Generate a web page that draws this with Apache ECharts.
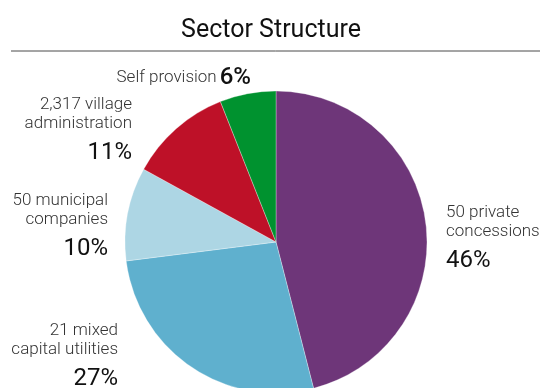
<!DOCTYPE html>
<html>
<head>
<meta charset="utf-8">
<style>
  html, body { margin: 0; padding: 0; background: #ffffff; }
  #chart { width: 542px; height: 388px; }
</style>
<script src="https://cdn.jsdelivr.net/npm/echarts@6/dist/echarts.min.js"></script>
</head>
<body>
<div id="chart"></div>
<script>
// Sector shares, clockwise from 12 o'clock
const sectorNames = [
  '50 private\nconcessions',
  '21 mixed\ncapital utilities',
  '50 municipal\ncompanies',
  '2,317 village\nadministration',
  'Self provision'
];
const sectorShares = [46, 27, 10, 11, 6];
const sectorColors = ['#6E3679', '#5FB0CE', '#ADD6E4', '#BE1128', '#00922F'];

// Label anchors (pixels) and alignment for each slice
const labelAnchors = [
  { x: 446, y: 203, align: 'left' },
  { x: 118, y: 321, align: 'right' },
  { x: 108, y: 191, align: 'right' },
  { x: 132, y: 95, align: 'right' },
  { x: 251, y: 64, align: 'right' }
];

const chart = echarts.init(document.getElementById('chart'), null, { renderer: 'canvas' });

const FONT = 'Roboto, "Noto Sans", sans-serif';

chart.setOption({
  animation: false,
  title: {
    text: 'Sector Structure',
    left: 'center',
    top: 13,
    textStyle: { fontFamily: FONT, fontSize: 25, fontWeight: 400, color: '#111' }
  },
  graphic: [{
    type: 'line',
    shape: { x1: 11, y1: 51, x2: 540, y2: 51 },
    style: { stroke: '#4a4a4a', lineWidth: 1 }
  }],
  series: [{
    type: 'pie',
    center: [276, 242],
    radius: 151,
    startAngle: 90,
    clockwise: true,
    avoidLabelOverlap: false,
    itemStyle: { borderColor: 'rgba(255,255,255,0.6)', borderWidth: 0.5 },
    labelLine: { show: false },
    label: {
      show: true,
      position: 'outside',
      fontFamily: FONT,
      formatter: function (p) {
        if (p.dataIndex === 4) {
          return '{name|' + p.name + '} {pctb|' + p.value + '%}';
        }
        return p.name.split('\n').map(s => '{name|' + s + '}').join('\n') +
          '\n{pct|' + p.value + '%}';
      },
      rich: {
        name: { fontFamily: FONT, fontSize: 17, fontWeight: 300, color: '#333', lineHeight: 19 },
        pct: { fontFamily: FONT, fontSize: 24, fontWeight: 400, color: '#111', lineHeight: 34, padding: [5, 0, 0, 0] },
        pctb: { fontFamily: FONT, fontSize: 24, fontWeight: 500, color: '#111', lineHeight: 28 }
      }
    },
    labelLayout: function (params) {
      const a = labelAnchors[params.dataIndex];
      return { x: a.x, y: a.y, align: a.align, verticalAlign: 'top', hideOverlap: false };
    },
    data: sectorNames.map((n, i) => ({
      name: n,
      value: sectorShares[i],
      itemStyle: { color: sectorColors[i] }
    }))
  }]
});
</script>
</body>
</html>
